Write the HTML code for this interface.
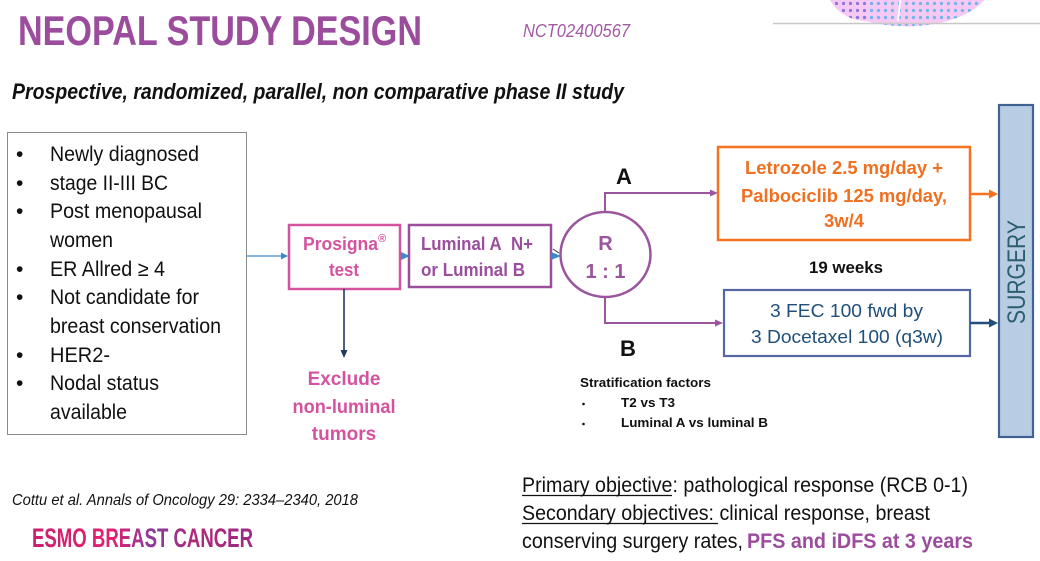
<!DOCTYPE html>
<html><head><meta charset="utf-8"><style>
html,body{margin:0;padding:0;background:#fff;}
svg{display:block;}
text{font-family:"Liberation Sans",Arial,sans-serif;}
</style></head><body>
<svg width="1040" height="561" viewBox="0 0 1040 561" xmlns="http://www.w3.org/2000/svg">
<defs>
<pattern id="dots" x="0" y="0" width="7" height="7" patternUnits="userSpaceOnUse">
<rect width="7" height="7" fill="#f6c9f4"/>
<circle cx="3.5" cy="3.5" r="1.6" fill="#8a78d8"/>
</pattern>
<pattern id="dots2" x="0" y="0" width="7" height="7" patternUnits="userSpaceOnUse">
<rect width="7" height="7" fill="#f6c9f4"/>
<circle cx="3.5" cy="3.5" r="1.6" fill="#6cb8ea"/>
</pattern>
<linearGradient id="esmo" x1="0" x2="1" y1="0" y2="0">
<stop offset="0" stop-color="#c8206e"/>
<stop offset="0.35" stop-color="#e4206e"/>
<stop offset="0.55" stop-color="#8a3a9c"/>
<stop offset="0.75" stop-color="#b02878"/>
<stop offset="1" stop-color="#9a2a86"/>
</linearGradient>
</defs>

<!-- top right decoration -->
<ellipse cx="866" cy="-22" rx="42" ry="43" fill="url(#dots)"/>
<path d="M866,21 A84,43 0 0,0 990,-22 L990,-30 L866,-30 Z" fill="url(#dots2)"/>
<path d="M905,-30 Q900,0 898,21" stroke="#fff" stroke-width="2" fill="none"/>
<line x1="773" y1="23.5" x2="1040" y2="23.5" stroke="#c8c8c8" stroke-width="1.5"/>

<!-- title -->
<text x="18" y="45" font-size="42" font-weight="bold" fill="#9b4c9c" textLength="404" lengthAdjust="spacingAndGlyphs">NEOPAL STUDY DESIGN</text>
<text x="523" y="37" font-size="18" font-style="italic" fill="#a35aa6" textLength="107" lengthAdjust="spacingAndGlyphs">NCT02400567</text>
<text x="12" y="99" font-size="22" font-weight="bold" font-style="italic" fill="#111" textLength="612" lengthAdjust="spacingAndGlyphs">Prospective, randomized, parallel, non comparative phase II study</text>

<!-- left box -->
<rect x="7.5" y="132.5" width="239" height="302" fill="#fff" stroke="#8a8a8a" stroke-width="1"/>
<g font-size="21" fill="#111">
<text x="16" y="161">•</text><text x="50" y="161" textLength="149" lengthAdjust="spacingAndGlyphs">Newly diagnosed</text>
<text x="16" y="190">•</text><text x="50" y="190" textLength="118" lengthAdjust="spacingAndGlyphs">stage II-III BC</text>
<text x="16" y="218">•</text><text x="50" y="218" textLength="152" lengthAdjust="spacingAndGlyphs">Post menopausal</text>
<text x="50" y="247" textLength="63" lengthAdjust="spacingAndGlyphs">women</text>
<text x="16" y="276">•</text><text x="50" y="276" textLength="115" lengthAdjust="spacingAndGlyphs">ER Allred ≥ 4</text>
<text x="16" y="304">•</text><text x="50" y="304" textLength="149" lengthAdjust="spacingAndGlyphs">Not candidate for</text>
<text x="50" y="333" textLength="171" lengthAdjust="spacingAndGlyphs">breast conservation</text>
<text x="16" y="362">•</text><text x="50" y="362" textLength="60" lengthAdjust="spacingAndGlyphs">HER2-</text>
<text x="16" y="390">•</text><text x="50" y="390" textLength="109" lengthAdjust="spacingAndGlyphs">Nodal status</text>
<text x="50" y="419" textLength="77" lengthAdjust="spacingAndGlyphs">available</text>
</g>

<!-- arrow left box -> Prosigna -->
<line x1="247" y1="256" x2="282" y2="256" stroke="#3a8ad0" stroke-width="1.3"/>
<polygon points="281,252.5 288,256 281,259.5" fill="#3a8ad0"/>

<!-- Prosigna box -->
<rect x="289" y="225" width="111" height="64" fill="#fff" stroke="#d4539e" stroke-width="2.5"/>
<text x="303" y="250" font-size="18" font-weight="bold" fill="#d4539e" textLength="75" lengthAdjust="spacingAndGlyphs">Prosigna</text>
<text x="378" y="242" font-size="11" font-weight="bold" fill="#d4539e">®</text>
<text x="329" y="276" font-size="18" font-weight="bold" fill="#d4539e" textLength="30" lengthAdjust="spacingAndGlyphs">test</text>

<!-- small arrow -->
<polygon points="401,252 410,256 401,260" fill="#3a8ad0"/>

<!-- Luminal box -->
<rect x="409" y="225" width="142" height="62" fill="#fff" stroke="#9a4e9c" stroke-width="2.5"/>
<text x="421" y="250" font-size="18" font-weight="bold" fill="#9a4e9c" textLength="112" lengthAdjust="spacingAndGlyphs">Luminal A&#160; N+</text>
<text x="421" y="276" font-size="18" font-weight="bold" fill="#9a4e9c" textLength="104" lengthAdjust="spacingAndGlyphs">or Luminal B</text>

<!-- small arrow to circle -->
<line x1="553" y1="249" x2="559" y2="253" stroke="#334" stroke-width="1"/>
<polygon points="551,252 561,256 551,260" fill="#3a8ad0"/>

<!-- circle R -->
<ellipse cx="605.5" cy="254.5" rx="45" ry="42.5" fill="#fff" stroke="#9b559e" stroke-width="2.5"/>
<text x="605.5" y="250" font-size="20" font-weight="bold" fill="#9b559e" text-anchor="middle">R</text>
<text x="605.5" y="278" font-size="20" font-weight="bold" fill="#9b559e" text-anchor="middle">1 : 1</text>

<!-- A / B branches -->
<polyline points="605,212 605,193 712,193" fill="none" stroke="#9b559e" stroke-width="2"/>
<polygon points="710,189.5 718,193 710,196.5" fill="#9b559e"/>
<polyline points="605,297 605,323 717,323" fill="none" stroke="#9b559e" stroke-width="2"/>
<polygon points="715,319.5 723,323 715,326.5" fill="#9b559e"/>
<text x="616" y="184" font-size="22" font-weight="bold" fill="#111">A</text>
<text x="620" y="356" font-size="22" font-weight="bold" fill="#111">B</text>

<!-- Orange box -->
<rect x="718" y="147" width="252" height="93" fill="#fff" stroke="#f47321" stroke-width="2.5"/>
<g font-size="18" font-weight="bold" fill="#ee7020">
<text x="745" y="174" textLength="198" lengthAdjust="spacingAndGlyphs">Letrozole 2.5 mg/day +</text>
<text x="741" y="202" textLength="206" lengthAdjust="spacingAndGlyphs">Palbociclib 125 mg/day,</text>
<text x="824" y="227" textLength="40" lengthAdjust="spacingAndGlyphs">3w/4</text>
</g>
<line x1="970" y1="194" x2="991" y2="194" stroke="#f47321" stroke-width="2.5"/>
<polygon points="989,189.5 998,194 989,198.5" fill="#f47321"/>

<text x="809" y="273" font-size="17" font-weight="bold" fill="#111" textLength="74" lengthAdjust="spacingAndGlyphs">19 weeks</text>

<!-- Blue box -->
<rect x="724" y="290" width="246" height="66" fill="#fff" stroke="#5566a6" stroke-width="2.2"/>
<g font-size="18" fill="#1f4f7a">
<text x="770" y="317" textLength="153" lengthAdjust="spacingAndGlyphs">3 FEC 100 fwd by</text>
<text x="751" y="343" textLength="192" lengthAdjust="spacingAndGlyphs">3 Docetaxel 100 (q3w)</text>
</g>
<line x1="970" y1="323" x2="991" y2="323" stroke="#1f4f7a" stroke-width="2.5"/>
<polygon points="989,318.5 998,323 989,327.5" fill="#1f4f7a"/>

<!-- Surgery bar -->
<rect x="999" y="105" width="34" height="332" fill="#b8cce4" stroke="#3f6290" stroke-width="2.2"/>
<text x="0" y="0" font-size="25" fill="#2c5f6e" text-anchor="middle" textLength="104" lengthAdjust="spacingAndGlyphs" transform="translate(1025,272) rotate(-90)">SURGERY</text>

<!-- Exclude -->
<line x1="344" y1="289" x2="344" y2="351" stroke="#1f3864" stroke-width="1.6"/>
<polygon points="340.5,350 344,358 347.5,350" fill="#1f3864"/>
<g font-size="19" font-weight="bold" fill="#d4539e" text-anchor="middle">
<text x="344" y="385">Exclude</text>
<text x="344" y="413" textLength="103" lengthAdjust="spacingAndGlyphs">non-luminal</text>
<text x="344" y="440">tumors</text>
</g>

<!-- Stratification -->
<g font-size="13" font-weight="bold" fill="#111">
<text x="580" y="387" textLength="131" lengthAdjust="spacingAndGlyphs">Stratification factors</text>
<text x="621" y="407" textLength="54" lengthAdjust="spacingAndGlyphs">T2 vs T3</text>
<text x="621" y="427" textLength="147" lengthAdjust="spacingAndGlyphs">Luminal A vs luminal B</text>
</g>
<circle cx="583.5" cy="404" r="1.3" fill="#111"/>
<circle cx="583.5" cy="424" r="1.3" fill="#111"/>

<!-- Objectives -->
<g font-size="21" fill="#111">
<text x="522" y="492" textLength="446" lengthAdjust="spacingAndGlyphs">Primary objective: pathological response (RCB 0-1)</text>
<text x="522" y="520" textLength="408" lengthAdjust="spacingAndGlyphs">Secondary objectives: clinical response, breast</text>
<text x="522" y="548" textLength="221" lengthAdjust="spacingAndGlyphs">conserving surgery rates,</text>
<text x="747" y="548" font-weight="bold" fill="#9b4c9c" textLength="226" lengthAdjust="spacingAndGlyphs">PFS and iDFS at 3 years</text>
</g>
<line x1="522" y1="495.5" x2="672" y2="495.5" stroke="#111" stroke-width="1.3"/>
<line x1="522" y1="523.5" x2="718" y2="523.5" stroke="#111" stroke-width="1.3"/>

<!-- citation -->
<text x="12" y="505" font-size="16" font-style="italic" fill="#111" textLength="346" lengthAdjust="spacingAndGlyphs">Cottu et al. Annals of Oncology 29: 2334–2340, 2018</text>
<text x="32" y="547" font-size="27" font-weight="bold" fill="url(#esmo)" textLength="221" lengthAdjust="spacingAndGlyphs">ESMO BREAST CANCER</text>
</svg>
</body></html>
